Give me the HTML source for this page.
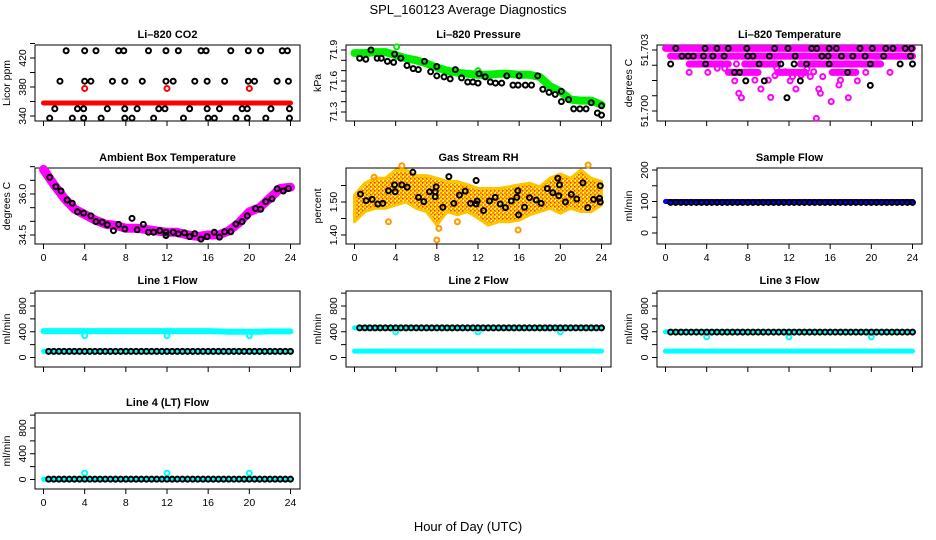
<!DOCTYPE html>
<html><head><meta charset="utf-8"><style>
html,body{margin:0;padding:0;background:#fff;width:936px;height:540px;overflow:hidden}
svg{display:block;font-family:"Liberation Sans",sans-serif}
</style></head><body>
<svg id="chart" width="936" height="540" viewBox="0 0 936 540" xmlns="http://www.w3.org/2000/svg">
<defs>
<pattern id="rhpat" width="4" height="4" patternUnits="userSpaceOnUse"><rect width="4" height="4" fill="#ffd700"/><rect width="2" height="2" fill="#ff8c00"/><rect x="2" y="2" width="1.5" height="1.5" fill="#ff2a00"/><rect x="3" y="0" width="1" height="1" fill="#fff"/></pattern>
</defs>
<text x="468" y="14" text-anchor="middle" font-size="13">SPL_160123  Average Diagnostics</text>
<text x="468" y="531" text-anchor="middle" font-size="13">Hour of Day (UTC)</text>
</svg>
<script>
// ---------- data ----------
const co2TopHours=[2.2,4.0,5.1,7.3,7.8,10.2,11.9,13.1,15.3,15.8,18.2,19.9,21.1,23.2,23.7];
const co2Row2Hours=[1.6,4.0,4.6,6.7,7.9,9.6,11.9,12.6,14.7,15.9,17.6,19.9,20.5,22.7,23.8];
const co2Row3Hours=[1.1,3.3,3.9,6.2,7.9,9.1,11.2,11.8,14.2,15.9,17.1,19.3,19.8,22.1,23.9];
const co2Row4Hours=[0.6,2.8,3.9,5.6,7.9,8.6,10.7,13.6,16.0,16.6,18.7,19.8,21.6,23.9];
const co2Levels=[430,388,350,337];
const co2RedHours=[0,24];
const co2RedVals=[358,358];
const co2RedOutHours=[4,12,20];
const co2RedOutVals=[378,378,378];

const presGreenVals=[71.87,71.87,71.88,71.88,71.85,71.82,71.80,71.77,71.73,71.70,71.68,71.67,71.66,71.66,71.67,71.67,71.66,71.66,71.64,71.55,71.50,71.42,71.41,71.41,71.37];
const presGreenOutHours=[4.1,12];
const presGreenOutVals=[71.93,71.70];
const presBlackHours=[0.5,1.1,1.6,2.2,2.6,3.2,3.8,3.9,4.5,5.1,5.7,6.2,6.8,7.4,8.0,8.0,8.7,9.3,9.8,10.4,11.0,11.5,12,12.1,12.7,13.2,13.7,14.3,14.8,15.4,15.9,16,16.6,17.2,17.8,18.3,18.9,19.5,20.1,20.1,20.8,21.3,21.9,22.5,23,23.6,24,24];
const presBlackVals=[71.82,71.81,71.90,71.82,71.82,71.79,71.78,71.86,71.82,71.75,71.72,71.71,71.79,71.69,71.65,71.74,71.64,71.62,71.71,71.63,71.59,71.59,71.58,71.67,71.64,71.59,71.58,71.58,71.65,71.56,71.56,71.65,71.56,71.56,71.65,71.52,71.49,71.47,71.50,71.40,71.42,71.33,71.33,71.33,71.39,71.29,71.36,71.27];

const tempBandHours=[[0,24],[0.5,24],[2.3,6.1],[7.7,10.9],[13.1,20.9],[6.1,9.0],[10.9,13.6],[16.2,18.5]];
const tempBandVals=[51.70308,51.70270,51.70231,51.70231,51.70231,51.70190,51.70190,51.70190];
const tempMagHours=[2.3,4.11,5.03,5.75,6.89,6.73,7.12,7.38,8.69,9.27,10.22,10.81,12.11,12.34,12.67,13.19,14.07,14.66,14.89,15.05,15.28,16.10,16.85,17.0,17.76,18.64,19.46,20.44,21.81,9.99,10.64,14.40,18.15,13.75,11.62];
const tempMagVals=[51.7019,51.7019,51.7021,51.7021,51.70231,51.70148,51.70087,51.70065,51.70152,51.70108,51.70067,51.7021,51.70148,51.70169,51.70108,51.70177,51.70169,51.69964,51.70108,51.70087,51.70169,51.70046,51.70128,51.70152,51.70065,51.70148,51.7019,51.70231,51.7019,51.70152,51.70174,51.70193,51.7019,51.70207,51.70193];
const tempBlackHours=[1.0,3.85,5.0,6.1,7.9,10.6,11.9,14.2,14.7,15.9,16.6,18.9,20.1,21.4,22.1,23.3,23.9,1.6,2.2,2.7,3.7,4.6,5.7,8.0,8.5,10.1,12.6,15.2,15.8,17.1,18.2,19.4,21.2,23.8,0.5,3.9,9.1,11.2,12.5,13.7,15.9,19.9,22.8,24.0,6.7,7.2,17.7,7.8,9.6,13.1,19.9,11.8];
const tempBlackVals=[51.70308,51.70308,51.70308,51.70308,51.70308,51.70308,51.70308,51.70308,51.70308,51.70308,51.70308,51.70308,51.70308,51.70308,51.70308,51.70308,51.70308,51.7027,51.7027,51.7027,51.7027,51.7027,51.7027,51.7027,51.7027,51.7027,51.7027,51.7027,51.7027,51.7027,51.7027,51.7027,51.7027,51.7027,51.70231,51.70231,51.70231,51.70231,51.70231,51.70231,51.70231,51.70231,51.70231,51.70231,51.7019,51.7019,51.7019,51.70148,51.70148,51.70148,51.70126,51.70065];

const ambMagVals=[36.9,36.35,35.85,35.45,35.25,35.05,34.9,34.85,34.75,34.75,34.7,34.65,34.6,34.6,34.5,34.45,34.5,34.5,34.65,34.95,35.35,35.5,35.85,36.2,36.25];
const ambBlackHours=[0.6,1.2,1.7,2.3,2.8,3.3,3.9,4.6,5.1,5.7,6.2,6.8,7.3,7.9,8.6,9.1,9.7,10.2,10.7,11.3,11.9,11.9,12.6,13.1,13.7,14.2,14.7,15.3,15.9,16.6,17.1,17.6,18.2,18.7,19.3,19.8,20.6,21.1,21.6,22.2,22.7,23.3,23.8];
const ambBlackVals=[36.61,36.27,36.11,35.78,35.66,35.35,35.30,35.20,34.99,34.97,34.87,34.66,34.89,34.72,35.11,34.69,34.89,34.60,34.60,34.66,34.60,34.48,34.60,34.54,34.58,34.44,34.55,34.35,34.44,34.60,34.42,34.62,34.62,34.90,34.99,35.20,35.47,35.44,35.72,35.82,36.19,36.11,36.20];

const rhUpper=[1.521,1.557,1.572,1.572,1.597,1.597,1.58,1.58,1.572,1.562,1.562,1.552,1.541,1.541,1.541,1.546,1.552,1.557,1.546,1.572,1.585,1.572,1.597,1.572,1.562];
const rhLower=[1.44,1.471,1.481,1.481,1.491,1.50,1.481,1.471,1.43,1.471,1.461,1.471,1.451,1.43,1.44,1.44,1.445,1.461,1.471,1.481,1.466,1.481,1.471,1.471,1.491];
const rhOutHours=[8.0,8.2,15.9,3.3,1.9,4.6,22.7,10.0];
const rhOutVals=[1.385,1.42,1.415,1.44,1.575,1.61,1.612,1.44];
const rhBlackHours=[0.58,1.13,1.72,2.27,2.75,3.30,3.89,3.95,4.60,5.12,5.67,6.22,6.74,7.29,7.84,7.84,7.94,8.58,9.17,9.65,10.20,10.76,11.27,11.82,11.82,11.92,12.54,13.12,13.67,14.16,14.67,15.23,15.77,15.87,15.94,16.52,17.01,17.66,18.14,18.73,19.27,19.76,19.85,19.92,20.50,21.06,21.60,22.19,22.67,23.23,23.81,23.88,23.88];
const rhBlackVals=[1.524,1.504,1.508,1.494,1.496,1.534,1.552,1.531,1.552,1.545,1.590,1.514,1.501,1.531,1.531,1.516,1.546,1.484,1.577,1.496,1.521,1.533,1.496,1.494,1.565,1.503,1.474,1.503,1.514,1.494,1.483,1.503,1.514,1.534,1.461,1.484,1.513,1.506,1.496,1.541,1.528,1.572,1.519,1.552,1.500,1.523,1.509,1.558,1.483,1.508,1.511,1.549,1.500];

const flowHours=[0.5,1,1.5,2,2.5,3,3.5,4,4.5,5,5.5,6,6.5,7,7.5,8,8.5,9,9.5,10,10.5,11,11.5,12,12.5,13,13.5,14,14.5,15,15.5,16,16.5,17,17.5,18,18.5,19,19.5,20,20.5,21,21.5,22,22.5,23,23.5,24];
const sampleBlue=[100,100,100,100,100,100,100,100,100,100,100,100,100,100,100,100,100,100,100,100,100,100,100,100,100];
const sampleBlack=[97,97,97,97,97,97,97,97,97,97,97,97,97,97,97,97,97,97,97,97,97,97,97,97,97,97,97,97,97,97,97,97,97,97,97,97,97,97,97,97,97,97,97,97,97,97,97,97];
const line1CyanHi=[410,410,410,410,410,410,410,410,410,410,410,410,410,410,410,410,410,405,400,400,400,400,405,405,405];
const line1CyanLo=[95,95,95,95,95,95,95,95,95,95,95,95,95,95,95,95,95,95,95,95,95,95,95,95,95];
const line1Black=[95,95,95,95,95,95,95,95,95,95,95,95,95,95,95,95,95,95,95,95,95,95,95,95,95,95,95,95,95,95,95,95,95,95,95,95,95,95,95,95,95,95,95,95,95,95,95,95];
const line2CyanHi=[460,460,460,460,460,460,460,460,460,460,460,460,460,460,460,460,460,460,460,460,460,460,460,460,460];
const line2CyanLo=[100,100,100,100,100,100,100,100,100,100,100,100,100,100,100,100,100,100,100,100,100,100,100,100,100];
const line2Black=[460,460,460,460,460,460,460,460,460,460,460,460,460,460,460,460,460,460,460,460,460,460,460,460,460,460,460,460,460,460,460,460,460,460,460,460,460,460,460,460,460,460,460,460,460,460,460,460];
const line3CyanHi=[400,400,400,400,400,400,400,400,400,400,400,400,400,400,400,400,400,400,400,400,400,400,400,400,400];
const line3CyanLo=[100,100,100,100,100,100,100,100,100,100,100,100,100,100,100,100,100,100,100,100,100,100,100,100,100];
const line3Black=[395,395,395,395,395,395,395,395,395,395,395,395,395,395,395,395,395,395,395,395,395,395,395,395,395,395,395,395,395,395,395,395,395,395,395,395,395,395,395,395,395,395,395,395,395,395,395,395];
const line4Cyan=[5,5,5,5,5,5,5,5,5,5,5,5,5,5,5,5,5,5,5,5,5,5,5,5,5];
const line4Black=[5,5,5,5,5,5,5,5,5,5,5,5,5,5,5,5,5,5,5,5,5,5,5,5,5,5,5,5,5,5,5,5,5,5,5,5,5,5,5,5,5,5,5,5,5,5,5,5];
const outHours=[4,12,20];
const line1Out=[340,340,340];
const line2Out=[400,400,400];
const line3Out=[320,320,320];
const line4Out=[100,100,100];
const hourTicks=[0,4,8,12,16,20,24];
const bandHours=[0,1,2,3,4,5,6,7,8,9,10,11,12,13,14,15,16,17,18,19,20,21,22,23,24];
const tempTicks=[51.700,51.70075,51.7015,51.70225,51.703];
const tempLabels=['51.700','51.703'];

// ---------- drawing ----------
const NS='http://www.w3.org/2000/svg';
const svg=document.getElementById('chart');
function mk(tag,attrs,parent){const e=document.createElementNS(NS,tag);for(const k in attrs)e.setAttribute(k,attrs[k]);(parent||svg).appendChild(e);return e;}
const rowTops=[45,168,291,413], colLefts=[35,346,657], BW=265, BH=76;

function panel(name,title,col,row,yA,yB,ticks,labels,ylab,clipLabels){
  const L=colLefts[col], T=rowTops[row];
  const g=mk('g',{});
  
  
  const X=h=>L+8.5+h*247/24;
  const Y=v=>T+yA[1]+(v-yA[0])*(yB[1]-yA[1])/(yB[0]-yA[0]);
  const t=mk('text',{x:L+BW/2,y:T-7,'text-anchor':'middle','font-size':'11','font-weight':'bold'},g);
  t.textContent=title;
  
  
  const box=mk('rect',{x:L,y:T,width:BW,height:BH,fill:'none',stroke:'#000','stroke-width':1},g);
  
  
  const ya=mk('g',{},g);
  
  
  ticks.forEach(v=>{const y=Y(v);mk('line',{x1:L-5,x2:L,y1:y,y2:y,stroke:'#000'},ya);});
  labels.forEach(s=>{const y=Y(Number(s));const tx=mk('text',{x:L-9,y:y,'text-anchor':'middle','font-size':'10.5',transform:`rotate(-90 ${L-9} ${y})`},ya);tx.textContent=s;});
  const yl=mk('text',{x:L-25,y:T+BH/2,'text-anchor':'middle','font-size':'10.5',transform:`rotate(-90 ${L-25} ${T+BH/2})`},g);
  yl.textContent=ylab;
  
  
  const xa=mk('g',{},g);
  
  
  const B=T+BH;
  mk('line',{x1:X(0),x2:X(24),y1:B,y2:B,stroke:'#000'},xa);
  hourTicks.forEach(h=>{mk('line',{x1:X(h),x2:X(h),y1:B,y2:B+5,stroke:'#000'},xa);});
  if(clipLabels){
    const cid='clip'+name;
    const cp=mk('clipPath',{id:cid},xa);mk('rect',{x:L-20,y:B,width:BW+40,height:9},cp);
    const lg=mk('g',{'clip-path':`url(#${cid})`},xa);
    hourTicks.forEach(h=>{const tx=mk('text',{x:X(h),y:B+17,'text-anchor':'middle','font-size':'10.5'},lg);tx.textContent=h;});
  } else {
    hourTicks.forEach(h=>{const tx=mk('text',{x:X(h),y:B+17,'text-anchor':'middle','font-size':'10.5'},xa);tx.textContent=h;});
  }
  const marks=mk('g',{},g);
  
  
  return {X,Y,g:marks};
}
function pts(p,hs,vs,color,name,r,sw){
  const grp=mk('g',{},p.g);
  
  
  hs.forEach((h,i)=>{mk('circle',{cx:p.X(h),cy:p.Y(vs[i]),r:r||2.5,fill:'none',stroke:color,'stroke-width':sw||2},grp);});
}
function band(p,hs,vs,color,w,name){
  const d=hs.map((h,i)=>(i?'L':'M')+p.X(h).toFixed(1)+','+p.Y(vs[i]).toFixed(1)).join('');
  const e=mk('path',{d,fill:'none',stroke:color,'stroke-width':w,'stroke-linecap':'round','stroke-linejoin':'round'},p.g);
  
  
}

let p=panel('co2','Li\u2013820 CO2',0,0,[340,71],[420,13],[340,360,380,400,420,440],['340','380','420'],'Licor ppm',true);
band(p,co2RedHours,co2RedVals,'#ff0000',5,'co2-red-series');
pts(p,co2RedOutHours,co2RedOutVals,'#ff0000','co2-red-outliers');
pts(p,co2TopHours,co2TopHours.map(()=>co2Levels[0]),'#000','co2-black-430');
pts(p,co2Row2Hours,co2Row2Hours.map(()=>co2Levels[1]),'#000','co2-black-388');
pts(p,co2Row3Hours,co2Row3Hours.map(()=>co2Levels[2]),'#000','co2-black-350');
pts(p,co2Row4Hours,co2Row4Hours.map(()=>co2Levels[3]),'#000','co2-black-337');

p=panel('pressure','Li\u2013820 Pressure',1,0,[71.9,5],[71.3,67],[71.3,71.4,71.5,71.6,71.7,71.8,71.9],['71.3','71.6','71.9'],'kPa',true);
band(p,bandHours,presGreenVals,'#00ee00',8,'pressure-green-series');
pts(p,presGreenOutHours,presGreenOutVals,'#00ee00','pressure-green-outliers');
pts(p,presBlackHours,presBlackVals,'#000','pressure-black-series');

p=panel('li820-temp','Li\u2013820 Temperature',2,0,[51.700,66],[51.703,5],tempTicks,tempLabels,'degrees C',true);
tempBandHours.forEach((hh,i)=>band(p,hh,[tempBandVals[i],tempBandVals[i]],'#ff00ff',7,'temp-magenta-band'));
pts(p,tempMagHours,tempMagVals,'#ff00ff','temp-magenta-points');
pts(p,tempBlackHours,tempBlackVals,'#000','temp-black-points');

p=panel('ambient','Ambient Box Temperature',0,1,[36.0,26],[34.5,67],[34.5,35,35.5,36,36.5,37],['34.5','36.0'],'degrees C',false);
band(p,bandHours,ambMagVals,'#ff00ff',9,'ambient-magenta-series');
pts(p,ambBlackHours,ambBlackVals,'#000','ambient-black-series');

p=panel('rh','Gas Stream RH',1,1,[1.50,34],[1.40,67],[1.40,1.45,1.50,1.55],['1.40','1.50'],'percent',false);
{const d=bandHours.map((h,i)=>(i?'L':'M')+p.X(h)+','+p.Y(rhUpper[i])).join('')+bandHours.slice().reverse().map((h,i)=>'L'+p.X(h)+','+p.Y(rhLower[24-i])).join('')+'Z';
const e=mk('path',{d,fill:'url(#rhpat)',stroke:'#ffc400','stroke-width':3,'stroke-linejoin':'round'},p.g);

}
pts(p,rhOutHours,rhOutVals,'#ff9900','rh-orange-outliers');
pts(p,rhBlackHours,rhBlackVals,'#000','rh-black-series');

p=panel('sample-flow','Sample Flow',2,1,[0,65],[200,2],[0,50,100,150,200],['0','100','200'],'ml/min',false);
band(p,bandHours,sampleBlue,'#0000ff',5,'sample-blue-series');
pts(p,flowHours,sampleBlack,'#000','sample-black-series');

const fT=[0,200,400,600,800,1000], fL=['0','400','800'];
p=panel('line1','Line 1 Flow',0,2,[0,66.5],[800,15],fT,fL,'ml/min',true);
band(p,bandHours,line1CyanHi,'#00ffff',6,'line1-cyan-high');
band(p,bandHours,line1CyanLo,'#00ffff',5,'line1-cyan-low');
pts(p,outHours,line1Out,'#00ffff','line1-cyan-outliers');
pts(p,flowHours,line1Black,'#000','line1-black-series');

p=panel('line2','Line 2 Flow',1,2,[0,66.5],[800,15],fT,fL,'ml/min',true);
band(p,bandHours,line2CyanHi,'#00ffff',5,'line2-cyan-high');
band(p,bandHours,line2CyanLo,'#00ffff',5,'line2-cyan-low');
pts(p,outHours,line2Out,'#00ffff','line2-cyan-outliers');
pts(p,flowHours,line2Black,'#000','line2-black-series');

p=panel('line3','Line 3 Flow',2,2,[0,66.5],[800,15],fT,fL,'ml/min',true);
band(p,bandHours,line3CyanHi,'#00ffff',5,'line3-cyan-high');
band(p,bandHours,line3CyanLo,'#00ffff',5,'line3-cyan-low');
pts(p,outHours,line3Out,'#00ffff','line3-cyan-outliers');
pts(p,flowHours,line3Black,'#000','line3-black-series');

p=panel('line4','Line 4 (LT) Flow',0,3,[0,66.5],[800,15],fT,fL,'ml/min',false);
band(p,bandHours,line4Cyan,'#00ffff',5,'line4-cyan-series');
pts(p,outHours,line4Out,'#00ffff','line4-cyan-outliers');
pts(p,flowHours,line4Black,'#000','line4-black-series');
</script>
</body></html>
